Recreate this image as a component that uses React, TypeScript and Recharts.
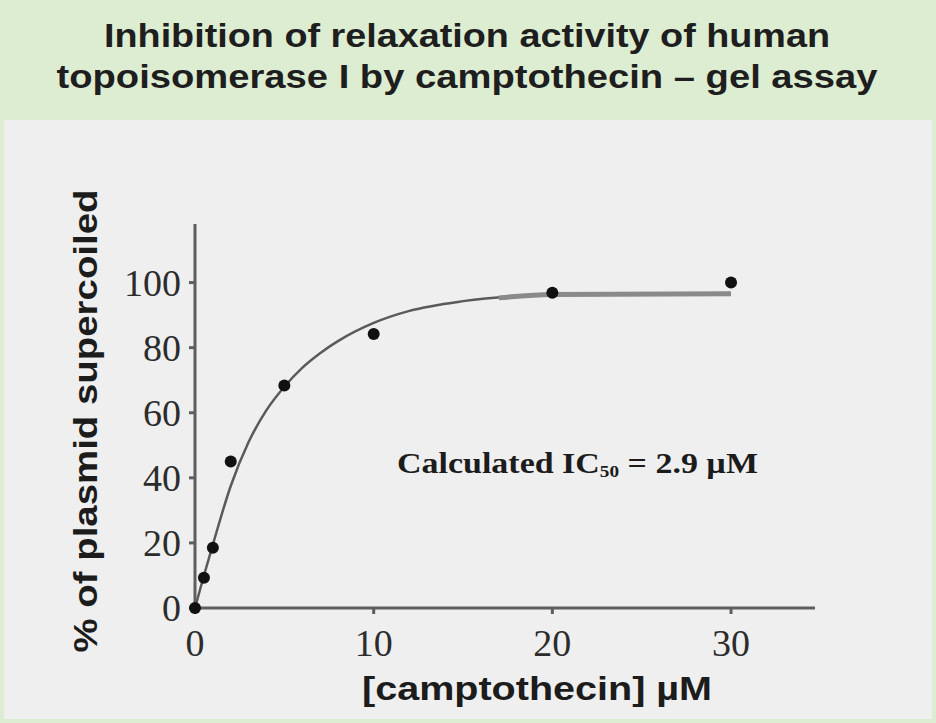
import { ComposedChart, Line, Scatter, XAxis, YAxis, Customized } from "recharts"

// measured points (camptothecin dose, % supercoiled)
const doseUM = [0, 0.5, 1, 2, 5, 10, 20, 30]
const supercoiledPct = [0, 9.3, 18.5, 45, 68.4, 84.2, 96.9, 100]

// fitted curve
const fitDose = [0, 0.5, 1, 2, 3, 4, 5, 6, 7, 8, 10, 12, 15, 20, 25, 30]
const fitPct = [0, 10, 19.5, 37.5, 51, 60.8, 68, 73.8, 78.3, 82, 87.6, 91.3, 94.3, 96.3, 96.6, 96.6]

// plateau part of the fit (drawn heavier)
const plateauDose = [17, 20, 30]
const plateauPct = [95.3, 96.3, 96.6]

const xTicks = [0, 10, 20, 30]
const yTicks = [0, 20, 40, 60, 80, 100]

const titleLines = ["Inhibition of relaxation activity of human", "topoisomerase I by camptothecin – gel assay"]

const points = doseUM.map((x, i) => ({ x, y: supercoiledPct[i] }))
const fit = fitDose.map((x, i) => ({ x, y: fitPct[i] }))
const plateau = plateauDose.map((x, i) => ({ x, y: plateauPct[i] }))

const axisColor = "#5e5e5e"
const serif = "'Liberation Serif', 'DejaVu Serif', serif"
const sans = "'Liberation Sans', Arial, sans-serif"

const Annotation = () => (
    <text x={397} y={473} fontFamily={serif} fontWeight={700} fontSize={30} fill="#1c1c1c"
        textLength={361} lengthAdjust="spacingAndGlyphs">
        Calculated IC<tspan fontSize={17} dy={4}>50</tspan><tspan dy={-4}> = 2.9 µM</tspan>
    </text>
)

const AxisTitles = () => (
    <g fontFamily={sans} fill="#1c1c1c">
        <text x={537} y={700} fontSize={33} fontWeight={700} textAnchor="middle" textLength={350} lengthAdjust="spacingAndGlyphs">
            [camptothecin] µM
        </text>
        <text x={0} y={0} fontSize={33} fontWeight={700} textAnchor="middle" transform="translate(97 421) rotate(-90)"
            textLength={463} lengthAdjust="spacingAndGlyphs">
            % of plasmid supercoiled
        </text>
    </g>
)

export default function App() {
    return (
        <div style={{ position: "absolute", left: 0, top: 0, width: 936, height: 723, background: "#ddedd1" }}>
            <div style={{ position: "absolute", left: 4, top: 120, width: 928, height: 599, background: "#efefef" }} />
            <svg width={936} height={120} style={{ position: "absolute", left: 0, top: 0 }}>
                <text x={467} y={47} textAnchor="middle" fontFamily={sans} fontWeight={600} fontSize={33} fill="#1e1e1e"
                    textLength={726} lengthAdjust="spacingAndGlyphs">{titleLines[0]}</text>
                <text x={467} y={88} textAnchor="middle" fontFamily={sans} fontWeight={600} fontSize={33} fill="#1e1e1e"
                    textLength={821} lengthAdjust="spacingAndGlyphs">{titleLines[1]}</text>
            </svg>
            <div style={{ position: "absolute", left: 0, top: 0 }}>
                <ComposedChart width={936} height={723} margin={{ top: 224, right: 121, bottom: 55, left: 115 }}>
                    <XAxis
                        type="number"
                        dataKey="x"
                        domain={[0, 34.7]}
                        ticks={xTicks}
                        height={60}
                        stroke={axisColor}
                        strokeWidth={3}
                        tickSize={6}
                        tickMargin={15}
                        tick={{ fontFamily: serif, fontSize: 38, fill: "#2c2c2c" }}
                    />
                    <YAxis
                        type="number"
                        dataKey="y"
                        domain={[0, 118]}
                        ticks={yTicks}
                        width={80}
                        stroke={axisColor}
                        strokeWidth={3}
                        tickSize={6}
                        tickMargin={8}
                        tick={{ fontFamily: serif, fontSize: 38, fill: "#2c2c2c" }}
                    />
                    <Line data={fit} dataKey="y" type="monotone" stroke="#5a5a5a" strokeWidth={2.5} dot={false} isAnimationActive={false} />
                    <Line data={plateau} dataKey="y" type="monotone" stroke="#8a8a8a" strokeWidth={5} dot={false} isAnimationActive={false} />
                    <Scatter data={points} dataKey="y" fill="#111" isAnimationActive={false}
                        shape={(p: any) => <circle cx={p.cx} cy={p.cy} r={6} fill="#111" />} />
                    <Customized component={Annotation} />
                    <Customized component={AxisTitles} />
                </ComposedChart>
            </div>
        </div>
    )
}
